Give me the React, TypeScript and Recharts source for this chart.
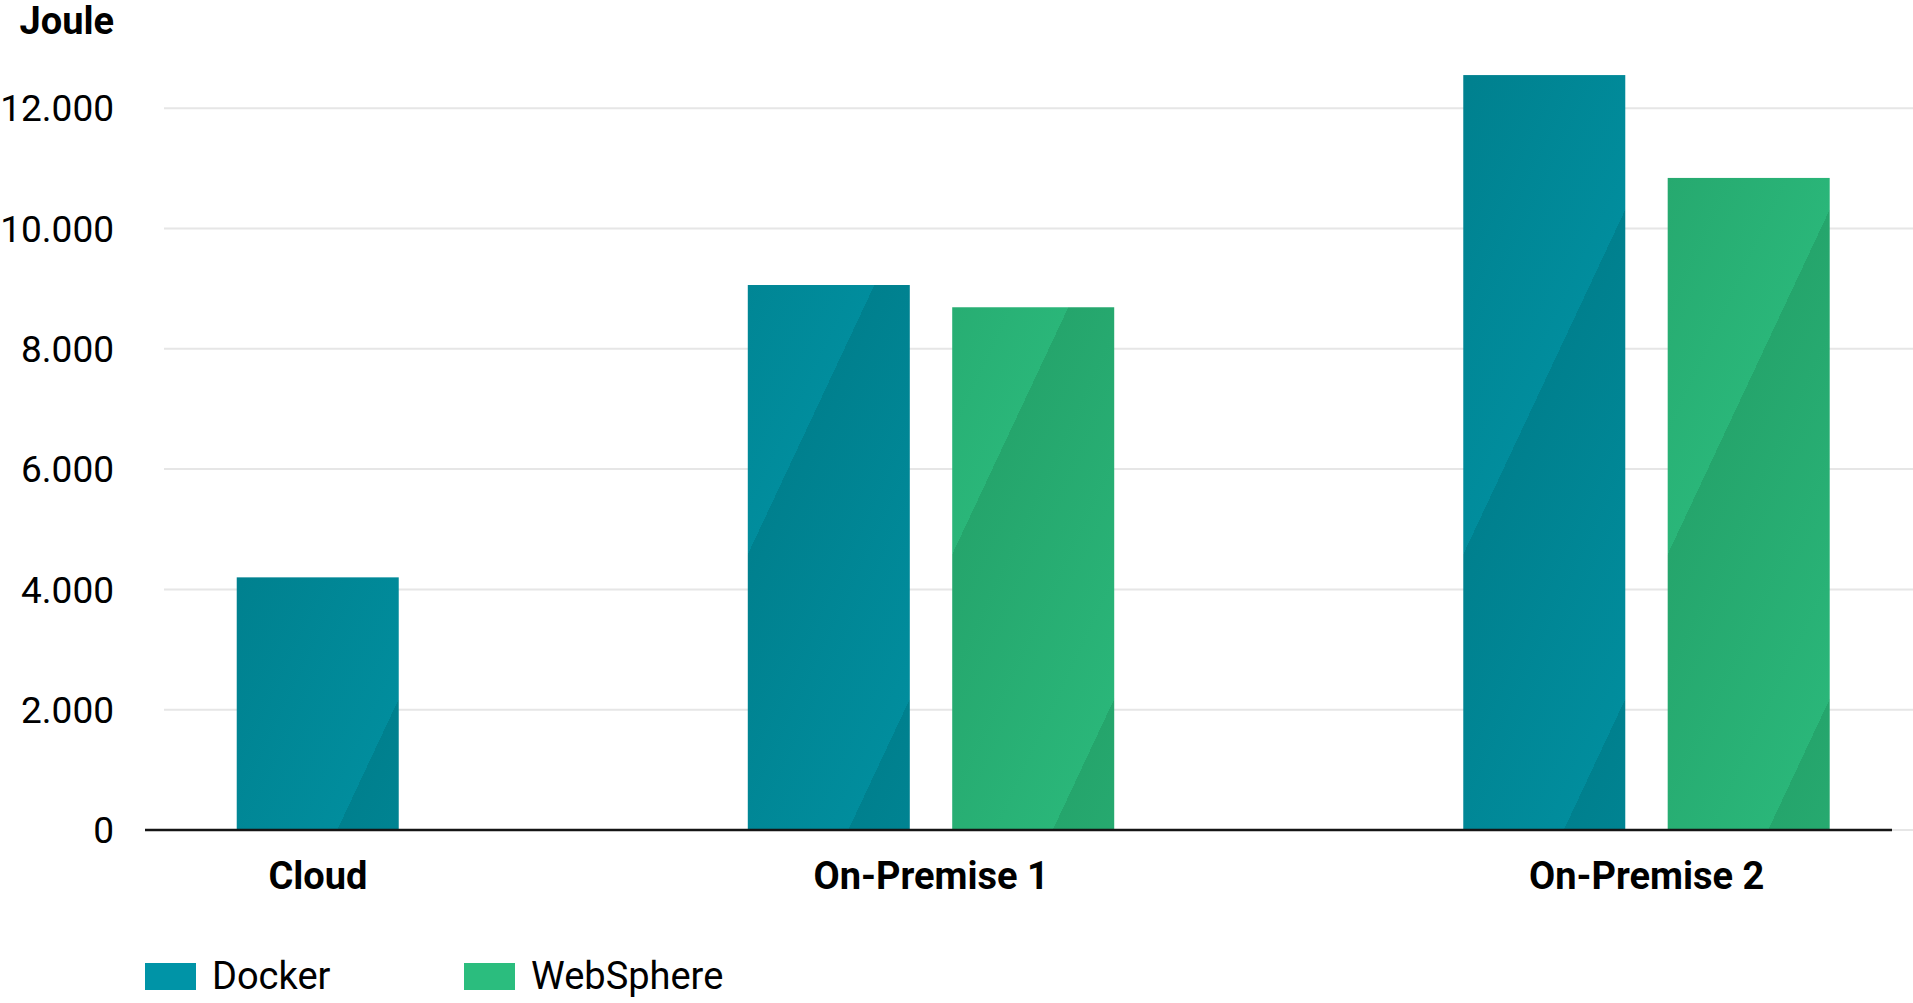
import React from "react";
import { BarChart, Bar, XAxis, YAxis, CartesianGrid, Label } from "recharts";

// values (Joule)
const categories = ["Cloud", "On-Premise 1", "On-Premise 2"];
const dockerValues: (number | null)[] = [4200, 9060, 12550];
const webSphereValues: (number | null)[] = [null, 8690, 10840];
const yTicks = [0, 2000, 4000, 6000, 8000, 10000, 12000];

const series = [
  { key: "docker", name: "Docker", values: dockerValues, light: "#018d9d", dark: "#00808e", legend: "#0094a7" },
  { key: "websphere", name: "WebSphere", values: webSphereValues, light: "#2ab679", dark: "#25a56c", legend: "#2bbd7e" },
];

const FONT = "Roboto, 'Open Sans', sans-serif";
const GROUP_GAP = 1.5; // empty slots between category groups

// one row per drawn bar; groups only hold the bars that have a value
const rows: Record<string, any>[] = [];
const groupCenters: number[] = [];
let cursor = 0;
categories.forEach((cat, i) => {
  const start = cursor;
  series.forEach((s) => {
    const v = s.values[i];
    if (v != null) {
      rows.push({ slot: cursor, category: cat, [s.key]: v });
      cursor += 1;
    }
  });
  groupCenters.push((start + cursor - 1) / 2);
  cursor += GROUP_GAP;
});

const fmt = (v: number) => v.toLocaleString("de-DE");

const TexturedBar = (props: any) => {
  const { x, y, width, height, light, dark, index, skey } = props;
  if (!height || height <= 0) return null;
  const k = 0.47;
  const step = 230;
  const x0 = x + width * 0.62;
  const y0 = y + height;
  const id = `tex-${skey}-${index}`;
  return (
    <g>
      <defs>
        <linearGradient
          id={id}
          gradientUnits="userSpaceOnUse"
          spreadMethod="repeat"
          x1={x0}
          y1={y0}
          x2={x0 + step / (1 + k * k)}
          y2={y0 + (step * k) / (1 + k * k)}
        >
          <stop offset="0" stopColor={dark} />
          <stop offset="1" stopColor={light} />
        </linearGradient>
      </defs>
      <rect x={x} y={y} width={width} height={height} fill={`url(#${id})`} />
    </g>
  );
};

// gridlines start a little right of the axis and run to the page edge; none at the plot top
const GridLine = (p: any) => {
  if (Math.abs(p.y1 - p.y) < 1) return <g key={`grid-${p.y1}`} />;
  return (
    <line
      key={`grid-${p.y1}`}
      x1={p.x1 + 19}
      x2={p.x2 + 21}
      y1={p.y1}
      y2={p.y2}
      stroke="#e6e6e6"
      strokeWidth={2}
    />
  );
};

export default function App() {
  return (
    <div style={{ position: "absolute", left: 0, top: 0, width: 1913, height: 1003, background: "#fff" }}>
      <BarChart width={1913} height={1003} data={rows} margin={{ top: 48, right: 21, bottom: 113, left: 0 }}>
        <CartesianGrid vertical={false} horizontal={GridLine} />
        <XAxis
          dataKey="slot"
          type="number"
          domain={[-0.846, 7.7]}
          ticks={groupCenters}
          interval={0}
          tickFormatter={(v: number) => categories[groupCenters.indexOf(v)]}
          tickLine={false}
          tickSize={0}
          tickMargin={32}
          height={60}
          axisLine={{ stroke: "#151515", strokeWidth: 2.5 }}
          tick={{ fill: "#000", fontSize: 38, fontWeight: 700, fontFamily: FONT }}
        />
        <YAxis
          type="number"
          domain={[0, 13000]}
          ticks={yTicks}
          width={145}
          axisLine={false}
          tickLine={false}
          tickSize={0}
          tickMargin={31}
          tickFormatter={fmt}
          tick={{ fill: "#000", fontSize: 37, fontFamily: FONT }}
        >
          <Label
            content={({ viewBox }: any) => (
              <text
                x={viewBox.x + viewBox.width - 31}
                y={viewBox.y - 14}
                textAnchor="end"
                fill="#000"
                fontSize={38}
                fontWeight={700}
                fontFamily={FONT}
              >
                Joule
              </text>
            )}
          />
        </YAxis>
        {series.map((s) => (
          <Bar
            key={s.key}
            dataKey={s.key}
            name={s.name}
            stackId="one"
            barSize={162}
            fill={s.light}
            isAnimationActive={false}
            shape={(p: any) => <TexturedBar {...p} light={s.light} dark={s.dark} skey={s.key} />}
          />
        ))}
      </BarChart>
      <div style={{ position: "absolute", left: 145, top: 957, display: "flex", alignItems: "center", fontFamily: FONT }}>
        {series.map((s) => (
          <div key={s.key} style={{ display: "flex", alignItems: "center", width: 319, height: 38 }}>
            <span style={{ display: "inline-block", width: 51, height: 27, background: s.legend, marginRight: 16 }} />
            <span style={{ fontSize: 38, lineHeight: 1, color: "#000" }}>{s.name}</span>
          </div>
        ))}
      </div>
    </div>
  );
}
